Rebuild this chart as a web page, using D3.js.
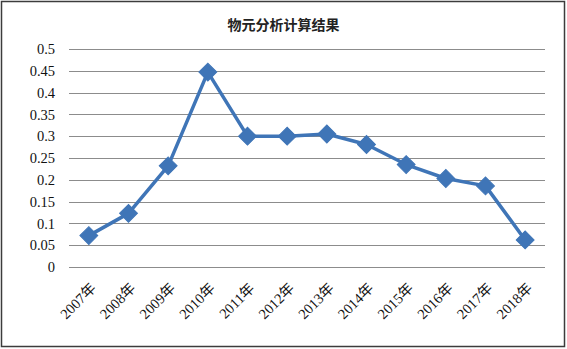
<!DOCTYPE html>
<html>
<head>
<meta charset="utf-8">
<script src="https://cdn.jsdelivr.net/npm/d3@7"></script>
<style>
  body { margin: 0; background: #fff; }
  svg { display: block; }
</style>
</head>
<body>
<div id="chart"></div>
<script>
const title = "物元分析计算结果";
const years = ["2007年", "2008年", "2009年", "2010年", "2011年", "2012年",
               "2013年", "2014年", "2015年", "2016年", "2017年", "2018年"];
const values = [0.072, 0.123, 0.232, 0.447, 0.300, 0.300,
                0.305, 0.281, 0.235, 0.203, 0.186, 0.062];
const yTicks = [0, 0.05, 0.1, 0.15, 0.2, 0.25, 0.3, 0.35, 0.4, 0.45, 0.5];

const W = 567, H = 349;
const margin = {top: 49, right: 22, bottom: 82, left: 69};
const width = W - margin.left - margin.right;
const height = H - margin.top - margin.bottom;
const blue = "#3f75b7";

const svg = d3.select("#chart").append("svg")
  .attr("width", W)
  .attr("height", H);

svg.append("rect")
  .attr("x", 1.5).attr("y", 1.5)
  .attr("width", W - 4).attr("height", H - 4)
  .attr("fill", "#fff")
  .attr("stroke", "#3c3c3c")
  .attr("stroke-width", 1.5);

svg.append("text")
  .attr("x", W / 2)
  .attr("y", 30)
  .attr("text-anchor", "middle")
  .attr("font-family", "'Noto Sans CJK SC', sans-serif")
  .attr("font-weight", "bold")
  .attr("font-size", 14)
  .attr("fill", "#222")
  .text(title);

const g = svg.append("g")
  .attr("transform", "translate(" + margin.left + "," + margin.top + ")");

const x = d3.scaleBand().domain(years).range([0, width]);
const y = d3.scaleLinear().domain([0, 0.5]).range([height, 0]);

// grid lines
g.append("g")
  .selectAll("line")
  .data(yTicks)
  .join("line")
  .attr("x1", 0).attr("x2", width)
  .attr("y1", d => Math.round(y(d)) + 0.5)
  .attr("y2", d => Math.round(y(d)) + 0.5)
  .attr("stroke", "#8c8c8c")
  .attr("stroke-width", 1.2);

// y axis labels
const yAxis = g.append("g")
  .call(d3.axisLeft(y).tickValues(yTicks).tickFormat(d => String(+d.toFixed(2))).tickSize(0).tickPadding(14));
yAxis.select(".domain").remove();
yAxis.selectAll("text")
  .attr("font-family", "'Liberation Serif', 'Times New Roman', serif")
  .attr("font-size", 14.5)
  .attr("fill", "#111");

// x axis labels
const xAxis = g.append("g")
  .attr("transform", "translate(0," + height + ")")
  .call(d3.axisBottom(x).tickSize(0));
xAxis.select(".domain").remove();
xAxis.selectAll("text")
  .attr("font-family", "'Liberation Serif', 'Times New Roman', 'Noto Sans CJK SC', serif")
  .attr("font-size", 14.5)
  .attr("fill", "#111")
  .attr("text-anchor", "end")
  .attr("dy", 0)
  .attr("transform", "translate(6,20) rotate(-45)");

const cx = d => x(d) + x.bandwidth() / 2;

const line = d3.line()
  .x((d, i) => cx(years[i]))
  .y(d => y(d));

g.append("path")
  .datum(values)
  .attr("fill", "none")
  .attr("stroke", blue)
  .attr("stroke-width", 3.5)
  .attr("stroke-linejoin", "round")
  .attr("d", line);

g.append("g")
  .selectAll("path")
  .data(values)
  .join("path")
  .attr("d", d3.symbol().type(d3.symbolSquare).size(160))
  .attr("transform", (d, i) => "translate(" + cx(years[i]) + "," + y(d) + ") rotate(45)")
  .attr("fill", blue)
  .attr("stroke", blue)
  .attr("stroke-width", 1);
</script>
</body>
</html>
